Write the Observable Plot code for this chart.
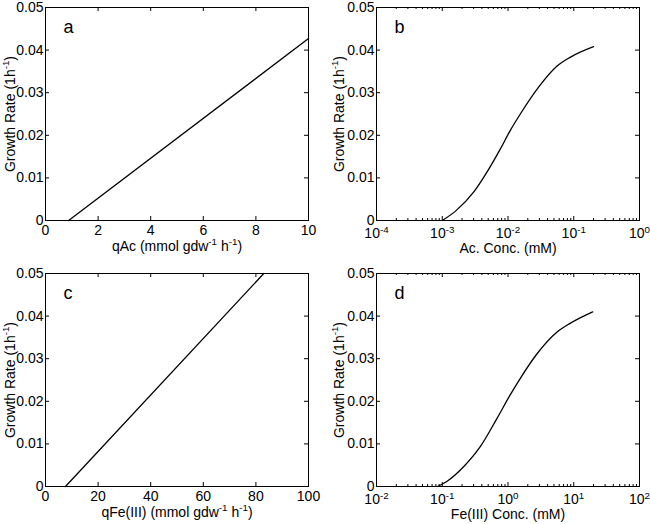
<!DOCTYPE html>
<html><head><meta charset="utf-8">
<script src="https://cdn.jsdelivr.net/npm/d3@7"></script>
<script src="https://cdn.jsdelivr.net/npm/@observablehq/plot@0.6"></script>
<style>
html,body{margin:0;padding:0;background:#fff;}
#chart{width:650px;height:524px;display:grid;grid-template-columns:325px 325px;grid-template-rows:262px 262px;}
#chart svg{display:block;}
</style></head><body><div id="chart"></div>
<script>
// ---- shared y axis ----
const yTicks = [0, 0.01, 0.02, 0.03, 0.04, 0.05];
const yTickLabels = ["0", "0.01", "0.02", "0.03", "0.04", "0.05"];
const yLabel = "Growth Rate (1h^{-1})";

// ---- panel a ----
const aX = [0.88, 10];
const aY = [0, 0.0427];
const aTicks = [0, 2, 4, 6, 8, 10];
const aTickLabels = ["0", "2", "4", "6", "8", "10"];
const aLabel = "qAc (mmol gdw^{-1} h^{-1})";

// ---- panel b ----
const bX = [0.001, 0.00159, 0.00302, 0.00481, 0.00766, 0.0108, 0.0154, 0.0292, 0.0552, 0.088, 0.2];
const bY = [0, 0.0022, 0.0067, 0.0114, 0.0168, 0.0211, 0.0250, 0.0313, 0.0362, 0.0383, 0.0408];
const bTicks = [1e-4, 1e-3, 1e-2, 1e-1, 1];
const bTickLabels = ["10^{-4}", "10^{-3}", "10^{-2}", "10^{-1}", "10^{0}"];
const bLabel = "Ac. Conc. (mM)";

// ---- panel c ----
const cX = [7.6, 83];
const cY = [0, 0.05];
const cTicks = [0, 20, 40, 60, 80, 100];
const cTickLabels = ["0", "20", "40", "60", "80", "100"];
const cLabel = "qFe(III) (mmol gdw^{-1} h^{-1})";

// ---- panel d ----
const dX = [0.085, 0.12, 0.213, 0.381, 0.681, 1.08, 1.54, 2.75, 5.52, 8.8, 19.4];
const dY = [0, 0.0013, 0.0047, 0.0094, 0.0160, 0.0215, 0.0254, 0.0311, 0.0362, 0.0383, 0.0410];
const dTicks = [1e-2, 1e-1, 1, 10, 100];
const dTickLabels = ["10^{-2}", "10^{-1}", "10^{0}", "10^{1}", "10^{2}"];
const dLabel = "Fe(III) Conc. (mM)";

const FONT = "'Liberation Sans', Arial, Helvetica, sans-serif";

function minorLogTicks(ticks) {
  const out = [];
  for (let i = 0; i < ticks.length - 1; i++)
    for (let k = 2; k <= 9; k++) out.push(ticks[i] * k);
  return out;
}

function supify(svg) {
  d3.select(svg).selectAll("text").each(function() {
    const t = this.textContent;
    if (!t.includes("^{")) return;
    const fs = parseFloat(getComputedStyle(this).fontSize) || 14;
    const shift = fs * 0.42;
    const parts = t.split(/\^\{([^}]*)\}/);
    this.textContent = "";
    let raised = false;
    parts.forEach((p, i) => {
      const sup = i % 2 === 1;
      if (!p) return;
      const ts = document.createElementNS("http://www.w3.org/2000/svg", "tspan");
      ts.textContent = p;
      if (sup && !raised) { ts.setAttribute("dy", -shift); raised = true; }
      else if (!sup && raised) { ts.setAttribute("dy", shift); raised = false; }
      if (sup) ts.setAttribute("font-size", (fs * 0.7) + "px");
      this.appendChild(ts);
    });
  });
}

function panel(o) {
  const W = 325, H = 262;
  const fw = W - o.ml - o.mr, fh = H - o.mt - o.mb;
  const T = 4, t = 2;
  const data = o.xs.map((x, i) => ({x, y: o.ys[i]}));
  const marks = [
    Plot.line(data, {x: "x", y: "y", stroke: "black", strokeWidth: 1.3, curve: "monotone-x"}),
    Plot.tickX(o.ticks, {x: d => d, insetTop: fh - T, stroke: "black"}),
    Plot.tickX(o.ticks, {x: d => d, insetBottom: fh - T, stroke: "black"}),
    Plot.tickY(yTicks, {y: d => d, insetRight: fw - T, stroke: "black"}),
    Plot.tickY(yTicks, {y: d => d, insetLeft: fw - T, stroke: "black"}),
    Plot.axisX({ticks: o.ticks, tickSize: 0, tickPadding: o.tickPad, tickFormat: d => o.tickLabels[o.ticks.indexOf(d)], label: null, fontSize: 14}),
    Plot.axisY({ticks: yTicks, tickSize: 0, tickPadding: 2, tickFormat: d => yTickLabels[yTicks.indexOf(d)], label: null, fontSize: 14}),
    Plot.text([o.xLabel], {frameAnchor: "bottom", dy: o.xLabelDy, lineAnchor: "bottom", textAnchor: "middle", text: d => d, fontSize: 14}),
    Plot.text([yLabel], {frameAnchor: "left", dx: o.yLabelDx, rotate: -90, lineAnchor: "bottom", textAnchor: "middle", text: d => d, fontSize: 14}),
    Plot.text([o.letter], {frameAnchor: "top-left", dx: 18, dy: 25, lineAnchor: "bottom", textAnchor: "start", fontSize: 18, text: d => d}),
    Plot.frame({stroke: "black", strokeWidth: 1})
  ];
  if (o.log) {
    const mn = minorLogTicks(o.ticks);
    marks.push(Plot.tickX(mn, {x: d => d, insetTop: fh - t, stroke: "black"}));
    marks.push(Plot.tickX(mn, {x: d => d, insetBottom: fh - t, stroke: "black"}));
  }
  return Plot.plot({
    width: W, height: H,
    marginLeft: o.ml, marginRight: o.mr, marginTop: o.mt, marginBottom: o.mb,
    x: {type: o.log ? "log" : "linear", domain: [o.ticks[0], o.ticks[o.ticks.length - 1]]},
    y: {domain: [0, 0.05]},
    style: {fontFamily: FONT, fontSize: "14px", background: "#fff", color: "black"},
    marks
  });
}

const chart = document.getElementById("chart");
const specs = [
  {xs: aX, ys: aY, ticks: aTicks, tickLabels: aTickLabels, xLabel: aLabel, letter: "a", log: false,
   ml: 45, mr: 17, mt: 7, mb: 42, tickPad: 5, xLabelDy: 30.5, yLabelDx: -31},
  {xs: bX, ys: bY, ticks: bTicks, tickLabels: bTickLabels, xLabel: bLabel, letter: "b", log: true,
   ml: 51, mr: 11, mt: 7, mb: 42, tickPad: 8, xLabelDy: 32.5, yLabelDx: -33},
  {xs: cX, ys: cY, ticks: cTicks, tickLabels: cTickLabels, xLabel: cLabel, letter: "c", log: false,
   ml: 45, mr: 17, mt: 11, mb: 38, tickPad: 5, xLabelDy: 30.5, yLabelDx: -31},
  {xs: dX, ys: dY, ticks: dTicks, tickLabels: dTickLabels, xLabel: dLabel, letter: "d", log: true,
   ml: 51, mr: 11, mt: 11, mb: 38, tickPad: 8, xLabelDy: 32.5, yLabelDx: -33}
];
for (const s of specs) {
  const svg = panel(s);
  chart.appendChild(svg);
  supify(svg);
}
</script>
</body></html>
